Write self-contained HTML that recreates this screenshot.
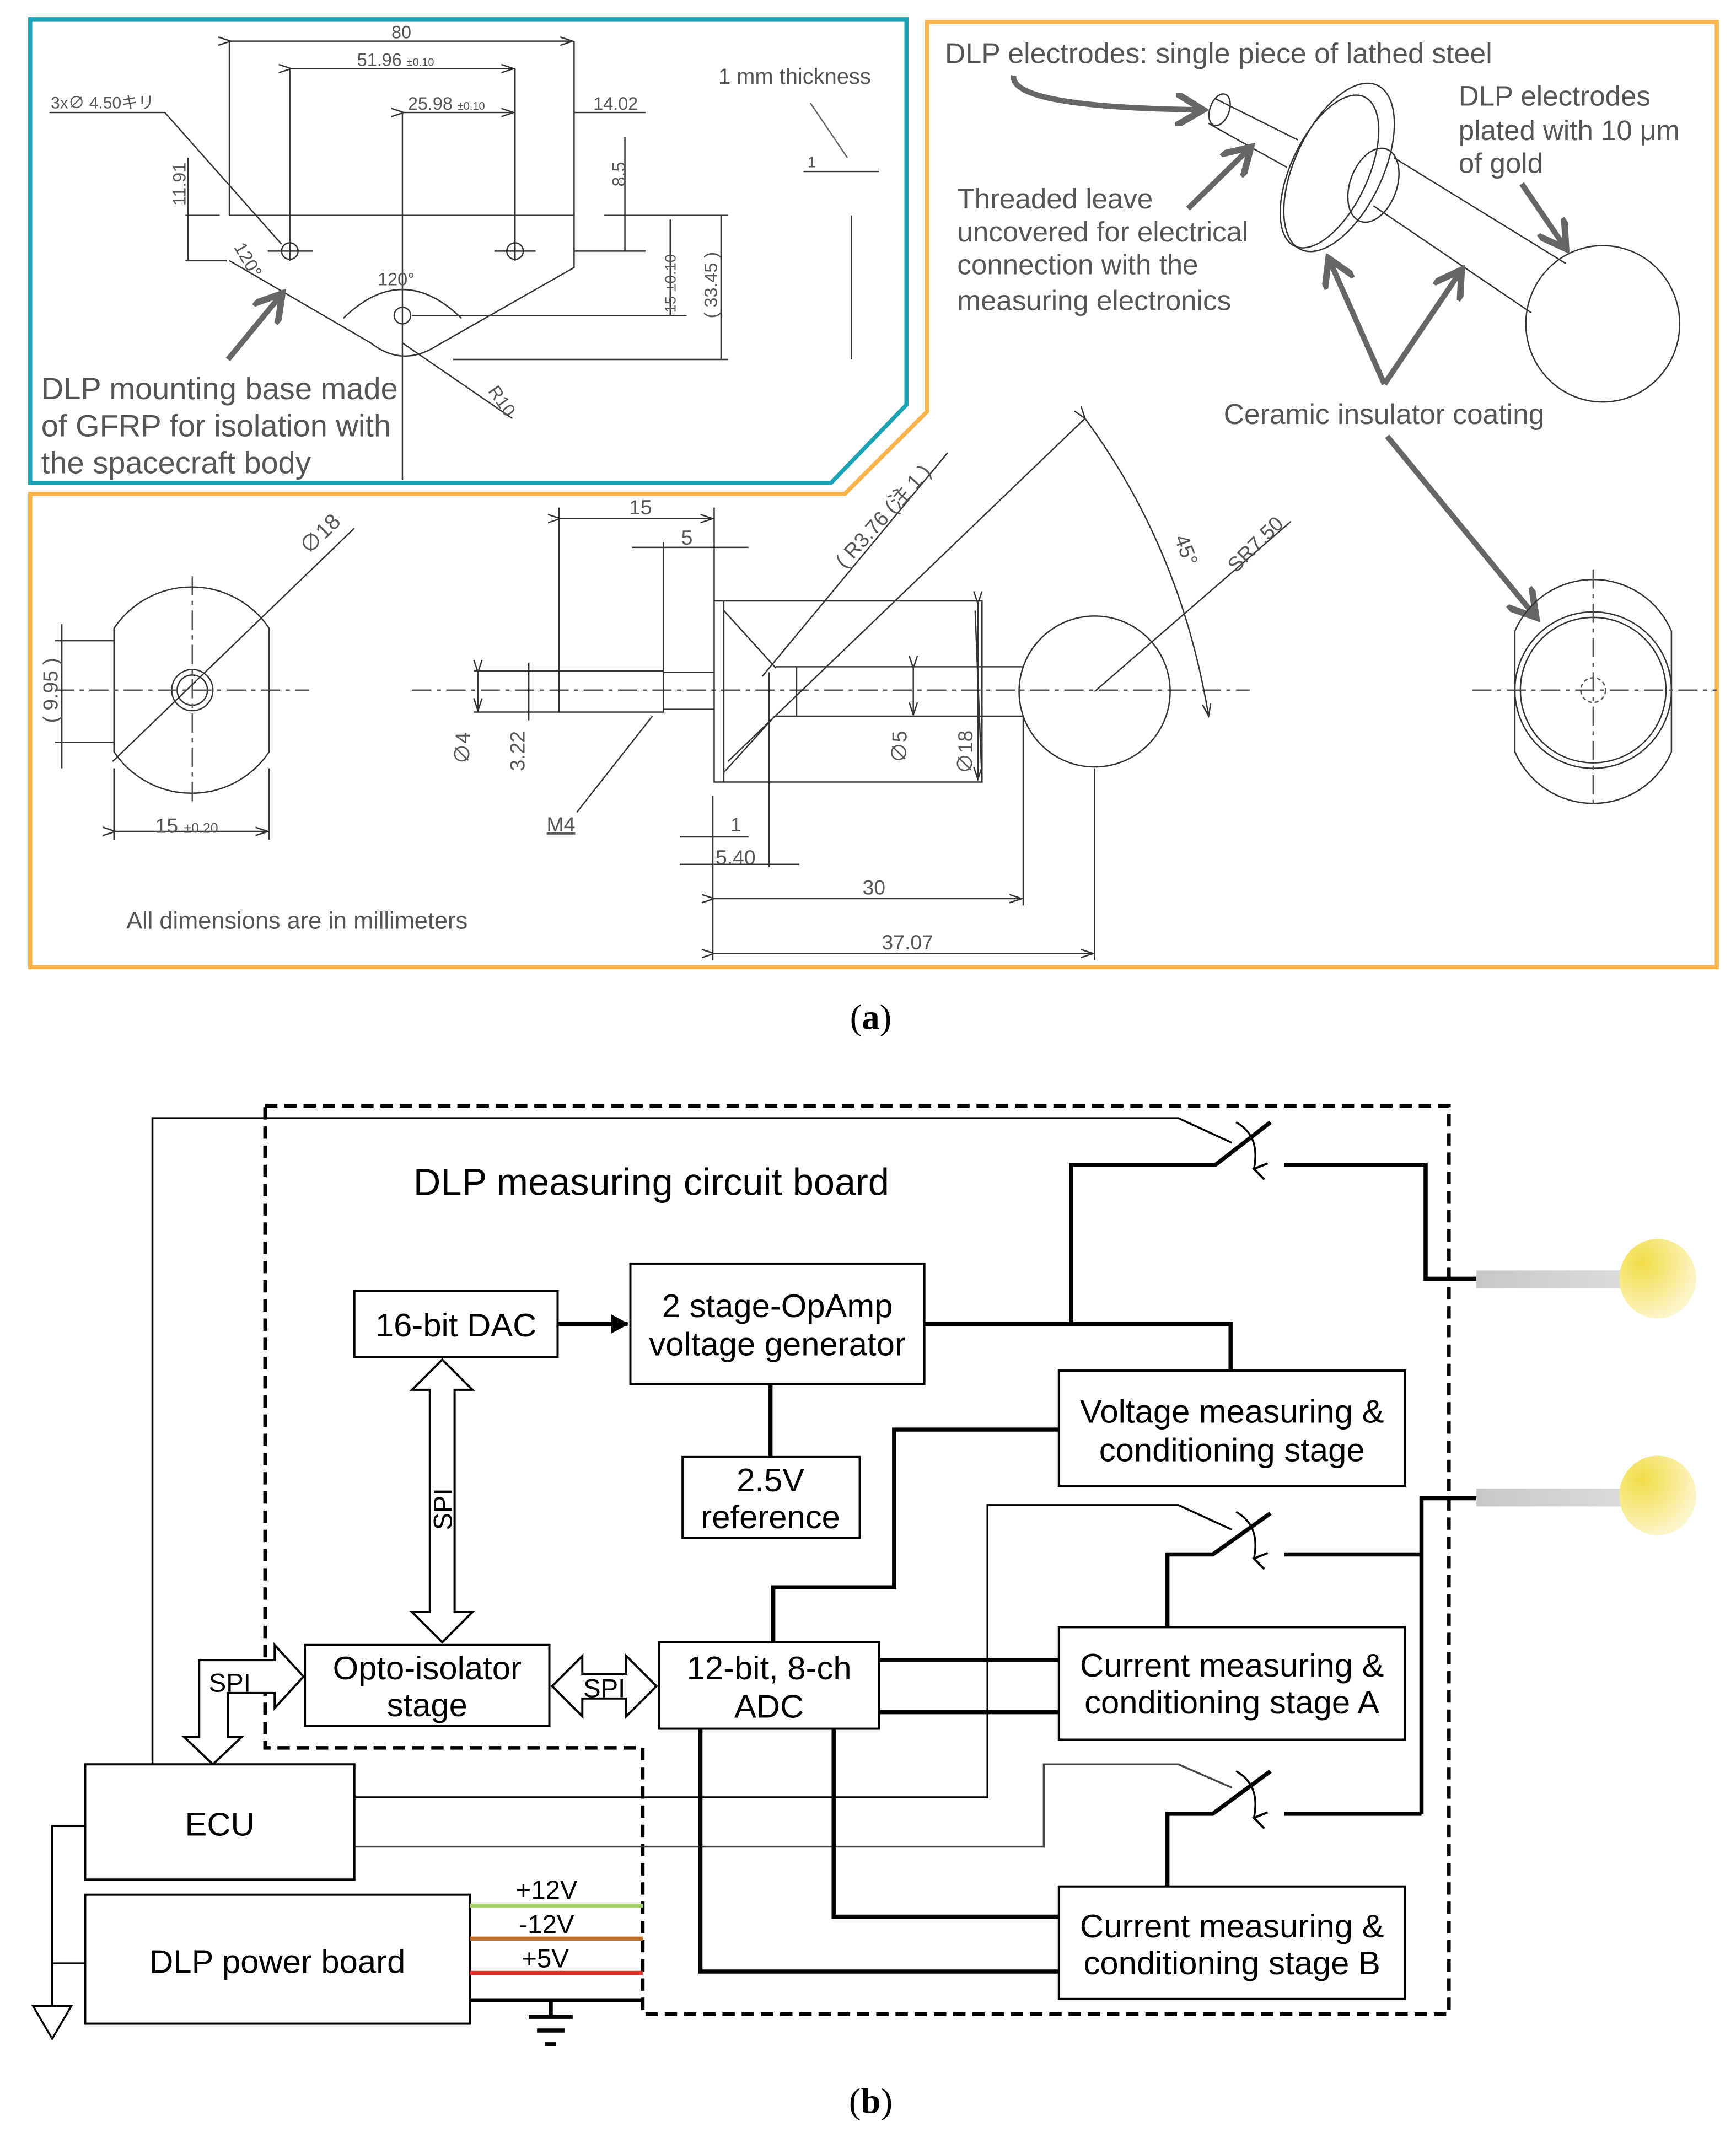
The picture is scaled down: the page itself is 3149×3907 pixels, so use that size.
<!DOCTYPE html>
<html><head><meta charset="utf-8"><style>
html,body{margin:0;padding:0;background:#fff}
svg{display:block}
text{font-family:"Liberation Sans","Noto Sans CJK JP",sans-serif}
.d{fill:none;stroke:#333;stroke-width:1}
.c{fill:none;stroke:#555;stroke-width:1;stroke-dasharray:14 4 3 4}
.g{fill:#555}
.ar{fill:none;stroke:#666;stroke-width:4}
.b{fill:#fff;stroke:#000;stroke-width:1.6}
.w{fill:none;stroke:#000;stroke-width:3}
.t{fill:none;stroke:#000;stroke-width:1.4}
.bt{font-size:24px;fill:#000;text-anchor:middle}
</style></head><body>
<svg width="3149" height="3907" viewBox="0 0 1264 1570" preserveAspectRatio="none" xmlns="http://www.w3.org/2000/svg">
<defs>
<marker id="ga" markerWidth="6" markerHeight="6" refX="4" refY="3" orient="auto" markerUnits="strokeWidth"><path d="M0,0 L5,3 L0,6" fill="none" stroke="#666" stroke-width="1.2"/></marker>
<marker id="da" markerWidth="10" markerHeight="10" refX="9" refY="5" orient="auto" markerUnits="userSpaceOnUse"><path d="M0,2 L9,5 L0,8" fill="none" stroke="#333" stroke-width="1"/></marker>
<marker id="ba" markerWidth="14" markerHeight="14" refX="12" refY="7" orient="auto" markerUnits="userSpaceOnUse"><path d="M0,0 L13,7 L0,14z" fill="#000"/></marker>
<marker id="sa" markerWidth="14" markerHeight="14" refX="7" refY="12" orient="auto" markerUnits="userSpaceOnUse"><path d="M1,3 L7,12 L13,3" fill="none" stroke="#000" stroke-width="1.6"/></marker>
<radialGradient id="ball" cx="0.3" cy="0.3" r="0.9"><stop offset="0" stop-color="#f2dc44"/><stop offset="1" stop-color="#fffbe8"/></radialGradient>
<linearGradient id="rod" x1="0" y1="0" x2="1" y2="0"><stop offset="0" stop-color="#c8c8c8"/><stop offset="1" stop-color="#dcdcdc"/></linearGradient>
</defs>

<!-- Panels -->
<path d="M22,14 L660,14 L660,295 L605,352 L22,352 Z" fill="none" stroke="#1aa3b5" stroke-width="3"/>
<path d="M675,16 L1250,16 L1250,705 L22,705 L22,360 L615,360 L675,300 Z" fill="none" stroke="#fbb44a" stroke-width="3"/>

<!-- Mounting base drawing -->
<path class="d" d="M167,157 L418,157 L418,195 L318,252 Q293,268 270,250 L167,190"/>
<circle class="d" cx="211" cy="183" r="6"/><circle class="d" cx="375" cy="183" r="6"/><circle class="d" cx="293" cy="230" r="6"/>
<path class="d" d="M167,30 L167,157 M418,30 L418,157 M211,50 L211,190 M375,50 L375,190 M293,82 L293,350 M195,183 L228,183 M360,183 L390,183"/>
<path class="d" marker-start="url(#da)" marker-end="url(#da)" d="M168,30 L417,30"/>
<path class="d" marker-start="url(#da)" marker-end="url(#da)" d="M212,50 L374,50"/>
<path class="d" marker-start="url(#da)" marker-end="url(#da)" d="M294,82 L374,82"/>
<path class="d" d="M418,82 L470,82 M36,82 L120,82 L205,178"/>
<path class="d" d="M135,157 L160,157 M135,190 L165,190 M137,115 L137,190 M455,100 L455,183 M418,183 L470,183 M488,160 L488,230 M440,157 L530,157 M300,230 L500,230 M330,262 L530,262 M525,157 L525,262 M293,250 L373,305"/>
<path class="d" d="M250,232 Q293,190 336,232"/>
<text x="285" y="28" font-size="13" class="g">80</text>
<text x="260" y="48" font-size="13" class="g">51.96 <tspan font-size="8">±0.10</tspan></text>
<text x="297" y="80" font-size="13" class="g">25.98 <tspan font-size="8">±0.10</tspan></text>
<text x="432" y="80" font-size="13" class="g">14.02</text>
<text x="37" y="79" font-size="12" class="g">3x∅ 4.50キリ</text>
<text x="135" y="150" font-size="13" class="g" transform="rotate(-90 135 150)">11.91</text>
<text x="455" y="136" font-size="13" class="g" transform="rotate(-90 455 136)">8.5</text>
<text x="492" y="228" font-size="11" class="g" transform="rotate(-90 492 228)">15 ±0.10</text>
<text x="522" y="232" font-size="13" class="g" transform="rotate(-90 522 232)">( 33.45 )</text>
<text x="275" y="208" font-size="13" class="g">120°</text>
<text x="170" y="180" font-size="13" class="g" transform="rotate(60 170 180)">120°</text>
<text x="355" y="285" font-size="13" class="g" transform="rotate(55 355 285)">R10</text>
<path class="d" d="M620,157 L620,262 M585,125 L640,125"/>
<text x="588" y="122" font-size="11" class="g">1</text>
<path class="ar" style="stroke-width:1" d="M590,75 L617,115"/>
<text x="523" y="61" font-size="16" class="g">1 mm thickness</text>
<text x="30" y="291" font-size="22.5" class="g">DLP mounting base made</text>
<text x="30" y="318" font-size="22.5" class="g">of GFRP for isolation with</text>
<text x="30" y="345" font-size="22.5" class="g">the spacecraft body</text>
<path class="ar" marker-end="url(#ga)" d="M166,262 L203,217"/>

<!-- Electrode 3D -->
<ellipse class="d" cx="1167" cy="236" rx="56" ry="57"/>
<path class="d" d="M1015,115 L1140,192 M1000,150 L1115,228 M885,72 L945,102 M880,90 L937,122"/>
<ellipse class="d" cx="888" cy="80" rx="7" ry="12" transform="rotate(20 888 80)"/>
<ellipse class="d" cx="975" cy="122" rx="32" ry="66" transform="rotate(25 975 122)"/>
<ellipse class="d" cx="968" cy="125" rx="28" ry="60" transform="rotate(25 968 125)"/>
<ellipse class="d" cx="1000" cy="135" rx="17" ry="28" transform="rotate(20 1000 135)"/>
<text x="688" y="46" font-size="20.8" class="g">DLP electrodes: single piece of lathed steel</text>
<text x="1062" y="77" font-size="20.5" class="g">DLP electrodes</text>
<text x="1062" y="102" font-size="20.5" class="g">plated with 10 μm</text>
<text x="1062" y="126" font-size="20.5" class="g">of gold</text>
<text x="697" y="152" font-size="20.5" class="g">Threaded leave</text>
<text x="697" y="176" font-size="20.5" class="g">uncovered for electrical</text>
<text x="697" y="200" font-size="20.5" class="g">connection with the</text>
<text x="697" y="226" font-size="20.5" class="g">measuring electronics</text>
<text x="891" y="309" font-size="20.7" class="g">Ceramic insulator coating</text>
<path class="ar" marker-end="url(#ga)" d="M738,55 Q735,78 872,80"/>
<path class="ar" marker-end="url(#ga)" d="M865,152 L908,110"/>
<path class="ar" marker-end="url(#ga)" d="M1108,134 L1138,178"/>
<path class="ar" marker-end="url(#ga)" d="M1008,280 L969,192"/>
<path class="ar" marker-end="url(#ga)" d="M1008,280 L1062,200"/>
<path class="ar" marker-end="url(#ga)" d="M1010,318 L1116,447"/>

<!-- Bottom-left end view -->
<path class="d" d="M83,458 A68,68 0 0 1 196,458 L196,548 A68,68 0 0 1 83,548 Z"/>
<circle class="d" cx="140" cy="503" r="15"/><circle class="d" cx="140" cy="503" r="11"/>
<path class="c" d="M40,503 L225,503 M140,420 L140,585"/>
<path class="d" d="M83,560 L83,612 M196,560 L196,612 M40,467 L83,467 M40,541 L83,541 M45,455 L45,560 M82,555 L258,385"/>
<path class="d" marker-start="url(#da)" marker-end="url(#da)" d="M84,606 L195,606"/>
<text x="113" y="607" font-size="15" class="g">15 <tspan font-size="10">±0.20</tspan></text>
<text x="225" y="405" font-size="16" class="g" transform="rotate(-45 225 405)">∅18</text>
<text x="42" y="527" font-size="15" class="g" transform="rotate(-90 42 527)">( 9.95 )</text>
<text x="92" y="677" font-size="17.4" class="g">All dimensions are in millimeters</text>

<!-- Side view -->
<path class="c" d="M300,503 L910,503"/>
<rect class="d" x="407" y="489" width="76" height="30"/>
<path class="d" d="M483,490 L520,490 M483,517 L520,517"/>
<rect class="d" x="520" y="438" width="195" height="132"/>
<path class="d" d="M527,438 L527,570 M527,445 L565,487 M527,563 L565,521 M565,486 L580,486 L580,522 L565,522 M580,486 L745,486 M580,522 L745,522"/>
<circle class="d" cx="797" cy="504" r="55"/>
<path class="d" d="M407,370 L407,489 M520,370 L520,438 M483,395 L483,489 M345,489 L407,489 M345,519 L407,519 M385,483 L385,525 M530,555 L790,305 M555,493 L690,330 M797,504 L940,380 M710,445 L715,570 M519,580 L519,700 M745,522 L745,660 M797,560 L797,700 M560,490 L560,632 M420,592 L475,522"/>
<path class="d" marker-start="url(#da)" marker-end="url(#da)" d="M408,378 L519,378"/>
<path class="d" d="M460,399 L545,399"/>
<path class="d" marker-start="url(#da)" marker-end="url(#da)" d="M348,490 L348,518"/>
<path class="d" marker-start="url(#da)" marker-end="url(#da)" d="M665,487 L665,521"/>
<path class="d" marker-start="url(#da)" marker-end="url(#da)" d="M712,440 L712,568"/>
<path class="d" marker-start="url(#da)" marker-end="url(#da)" d="M520,655 L744,655"/>
<path class="d" marker-start="url(#da)" marker-end="url(#da)" d="M520,695 L796,695"/>
<path class="d" d="M495,610 L545,610 M495,630 L582,630"/>
<path class="d" marker-start="url(#da)" marker-end="url(#da)" d="M790,305 Q860,400 880,522"/>
<text x="458" y="375" font-size="15" class="g">15</text>
<text x="496" y="397" font-size="15" class="g">5</text>
<text x="342" y="557" font-size="15" class="g" transform="rotate(-90 342 557)">∅4</text>
<text x="382" y="562" font-size="15" class="g" transform="rotate(-90 382 562)">3.22</text>
<text x="398" y="606" font-size="15" class="g" text-decoration="underline">M4</text>
<text x="532" y="606" font-size="14" class="g">1</text>
<text x="521" y="630" font-size="15" class="g">5.40</text>
<text x="628" y="652" font-size="15" class="g">30</text>
<text x="642" y="692" font-size="15" class="g">37.07</text>
<text x="660" y="556" font-size="15" class="g" transform="rotate(-90 660 556)">∅5</text>
<text x="708" y="564" font-size="15" class="g" transform="rotate(-90 708 564)">∅18</text>
<text x="615" y="415" font-size="15" class="g" transform="rotate(-48 615 415)">( R3.76 (注 1 )</text>
<text x="855" y="392" font-size="15" class="g" transform="rotate(70 855 392)">45°</text>
<text x="900" y="418" font-size="15" class="g" transform="rotate(-45 900 418)">SR7.50</text>

<!-- Right end view -->
<path class="d" d="M1103,460 A62,62 0 0 1 1217,460 L1217,548 A62,62 0 0 1 1103,548 Z"/>
<circle class="d" cx="1160" cy="503" r="57"/><circle class="d" cx="1160" cy="503" r="53"/>
<circle cx="1160" cy="503" r="9" fill="none" stroke="#555" stroke-dasharray="3 2"/>
<path class="c" d="M1072,503 L1250,503 M1160,415 L1160,590"/>

<text x="634" y="750" font-size="26" text-anchor="middle" style="font-family:'Liberation Serif',serif">(<tspan font-weight="bold">a</tspan>)</text>

<!-- Block diagram -->
<path d="M193,806 L1055,806 L1055,1468 L468,1468 L468,1274 L193,1274 Z" fill="none" stroke="#000" stroke-width="2.6" stroke-dasharray="9 5"/>
<text x="301" y="871" font-size="27.5">DLP measuring circuit board</text>

<!-- wires -->
<path class="t" d="M111,1286 L111,815 L858,815 L897,833"/>
<path class="w" d="M780,965 L780,849 L885,849 L925,818 M935,849 L1038,849 L1038,932 L1075,932"/>
<path class="w" d="M673,965 L896,965 L896,999"/>
<path class="w" marker-end="url(#ba)" d="M406,965 L457,965"/>
<path class="w" d="M561,1009 L561,1062"/>
<path class="w" d="M771,1042 L651,1042 L651,1157 L563,1157 L563,1197"/>
<path class="w" d="M640,1210 L771,1210 M640,1248 L771,1248"/>
<path class="w" d="M850,1186 L850,1133 L883,1133 L925,1103 M935,1133 L1035,1133 M1035,1322 L1035,1092 L1075,1092"/>
<path class="t" d="M258,1310 L719,1310 L719,1097 L858,1097 L897,1115"/>
<path class="t" style="stroke:#444" d="M258,1346 L760,1346 L760,1286 L858,1286 L897,1303"/>
<path class="w" d="M850,1375 L850,1322 L883,1322 L925,1291 M935,1322 L1035,1322"/>
<path class="w" d="M510,1260 L510,1437 L771,1437 M607,1260 L607,1397 L771,1397"/>
<path class="t" marker-end="url(#sa)" d="M900,818 Q918,828 913,852"/>
<path class="t" marker-end="url(#sa)" d="M900,1102 Q918,1112 913,1136"/>
<path class="t" marker-end="url(#sa)" d="M900,1291 Q918,1301 913,1325"/>

<!-- electrodes -->
<rect x="1075" y="926" width="110" height="13" fill="url(#rod)"/>
<ellipse cx="1207" cy="932" rx="28" ry="29" fill="url(#ball)"/>
<rect x="1075" y="1085" width="110" height="13" fill="url(#rod)"/>
<ellipse cx="1207" cy="1090" rx="28" ry="29" fill="url(#ball)"/>

<!-- SPI arrows -->
<path class="b" d="M322,991 L344,1013 L331,1013 L331,1175 L344,1175 L322,1197 L300,1175 L313,1175 L313,1013 L300,1013 Z"/>
<text x="329" y="1100" font-size="19" transform="rotate(-90 329 1100)" text-anchor="middle">SPI</text>
<path class="b" d="M402,1229 L424,1207 L424,1220 L456,1220 L456,1207 L478,1229 L456,1251 L456,1238 L424,1238 L424,1251 Z"/>
<text x="440" y="1237" font-size="19" text-anchor="middle">SPI</text>
<path class="b" d="M145,1210 L200,1210 L200,1199 L221,1222 L200,1245 L200,1234 L166,1234 L166,1266 L176,1266 L155,1286 L134,1266 L145,1266 Z"/>
<text x="152" y="1233" font-size="19">SPI</text>

<!-- boxes -->
<rect class="b" x="258" y="941" width="148" height="48"/>
<text class="bt" x="332" y="974">16-bit DAC</text>
<rect class="b" x="459" y="921" width="214" height="88"/>
<text class="bt" x="566" y="960">2 stage-OpAmp</text>
<text class="bt" x="566" y="988">voltage generator</text>
<rect class="b" x="771" y="999" width="252" height="84"/>
<text class="bt" x="897" y="1037">Voltage measuring &amp;</text>
<text class="bt" x="897" y="1065">conditioning stage</text>
<rect class="b" x="497" y="1062" width="129" height="59"/>
<text class="bt" x="561" y="1087">2.5V</text>
<text class="bt" x="561" y="1114">reference</text>
<rect class="b" x="222" y="1199" width="178" height="59"/>
<text class="bt" x="311" y="1224">Opto-isolator</text>
<text class="bt" x="311" y="1251">stage</text>
<rect class="b" x="480" y="1197" width="160" height="63"/>
<text class="bt" x="560" y="1224">12-bit, 8-ch</text>
<text class="bt" x="560" y="1252">ADC</text>
<rect class="b" x="771" y="1186" width="252" height="82"/>
<text class="bt" x="897" y="1222">Current measuring &amp;</text>
<text class="bt" x="897" y="1249">conditioning stage A</text>
<rect class="b" x="771" y="1375" width="252" height="82"/>
<text class="bt" x="897" y="1412">Current measuring &amp;</text>
<text class="bt" x="897" y="1439">conditioning stage B</text>
<rect class="b" x="62" y="1286" width="196" height="84"/>
<text class="bt" x="160" y="1338">ECU</text>
<rect class="b" x="62" y="1381" width="280" height="94"/>
<text class="bt" x="202" y="1438">DLP power board</text>

<!-- power / ground -->
<path d="M342,1389 L468,1389" stroke="#a3d26a" stroke-width="3"/>
<path d="M342,1413 L468,1413" stroke="#c0702a" stroke-width="3"/>
<path d="M342,1438 L468,1438" stroke="#e8302a" stroke-width="3"/>
<path d="M342,1458 L468,1458 M401,1458 L401,1470 M385,1470 L417,1470 M391,1480 L411,1480 M397,1490 L405,1490" stroke="#000" stroke-width="3" fill="none"/>
<text x="398" y="1384" font-size="19" text-anchor="middle">+12V</text>
<text x="398" y="1409" font-size="19" text-anchor="middle">-12V</text>
<text x="397" y="1434" font-size="19" text-anchor="middle">+5V</text>
<path class="t" d="M62,1331 L38,1331 L38,1462 M62,1431 L38,1431"/>
<path class="t" d="M24,1462 L52,1462 L38,1486 Z"/>

<text x="634" y="1540" font-size="26" text-anchor="middle" style="font-family:'Liberation Serif',serif">(<tspan font-weight="bold">b</tspan>)</text>
</svg>
</body></html>
